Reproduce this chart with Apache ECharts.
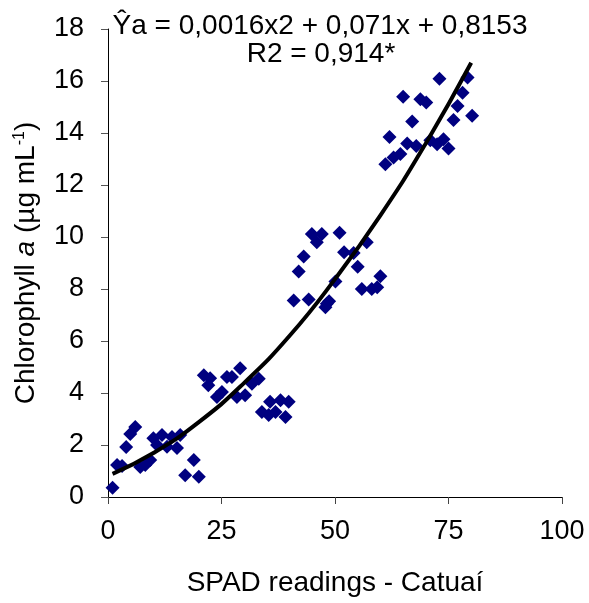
<!DOCTYPE html>
<html>
<head>
<meta charset="utf-8">
<script src="https://cdn.jsdelivr.net/npm/echarts@6/dist/echarts.min.js"></script>
<style>
  html, body { margin: 0; padding: 0; background: #fff; }
  #chart { width: 589px; height: 603px; }
</style>
</head>
<body>
<div id="chart"></div>
<script>
// SPAD readings (x) and chlorophyll a (y)
const spad = [
  1.0, 2.0, 3.1, 4.0, 4.9, 6.0, 7.1, 8.2, 9.3, 10.0, 10.8, 11.9, 13.0, 14.1, 15.2, 15.9, 17.0, 18.9, 20.0,
  21.1, 22.5, 22.1, 24.0, 25.1, 26.2, 27.3, 29.1, 28.4, 30.2, 31.7, 33.2, 33.9, 35.7, 35.4, 36.9, 38.0, 39.1, 39.8,
  44.9, 47.1, 46.0, 51.0, 43.1, 42.0, 52.0, 54.1, 57.0, 55.0, 50.1, 55.9, 58.1, 59.3, 60.0, 40.9, 44.2, 48.2, 48.7, 47.9,
  73.0, 79.2, 65.0, 68.8, 70.1, 78.1, 77.0, 80.2, 76.1, 67.0, 62.0, 65.9, 67.9, 71.0, 72.5, 73.9, 75.0, 64.4, 62.9, 61.1
];
const chla = [
  0.36, 1.23, 1.19, 1.92, 2.42, 2.69, 1.15, 1.23, 1.42, 2.26, 2.0, 2.38, 1.93, 2.31, 1.88, 2.38, 0.84, 1.42, 0.78,
  4.68, 4.57, 4.3, 3.85, 4.04, 4.62, 4.62, 4.95, 3.85, 3.91, 4.36, 4.55, 3.27, 3.66, 3.15, 3.27, 3.72, 3.08, 3.66,
  10.12, 10.12, 9.8, 10.16, 9.25, 8.67, 9.41, 9.38, 9.8, 8.86, 8.29, 8.0, 8.0, 8.07, 8.49, 7.56, 7.6, 7.43, 7.53, 7.3,
  16.09, 16.13, 15.39, 15.3, 15.17, 15.55, 15.04, 14.66, 14.5, 14.44, 13.85, 13.6, 13.5, 13.72, 13.57, 13.76, 13.4, 13.19, 13.06, 12.8
];

// trend curve points
const curveX = [1, 10, 20, 30, 40, 50, 60, 70, 80];
const curveY = [0.89, 1.69, 2.88, 4.39, 6.2, 8.38, 10.83, 13.6, 16.7];

const xTicks = [0, 25, 50, 75, 100];
const yTicks = [0, 2, 4, 6, 8, 10, 12, 14, 16, 18];

const FONT = 'Liberation Sans, Arial, sans-serif';
const FS = 27;   // tick labels
const FT = 28;   // title and axis names

const points = spad.map((x, i) => [x, chla[i]]);
const curve = curveX.map((x, i) => [x, curveY[i]]);

const chart = echarts.init(document.getElementById('chart'));
const option = {
  animation: false,
  backgroundColor: '#fff',
  graphic: [
    {
      type: 'text', x: 320, y: 26,
      style: { text: 'Ŷa = 0,0016x2 + 0,071x + 0,8153', font: FT + 'px ' + FONT, fill: '#000', align: 'center', verticalAlign: 'middle' }
    },
    {
      type: 'text', x: 321, y: 54,
      style: { text: 'R2 = 0,914*', font: FT + 'px ' + FONT, fill: '#000', align: 'center', verticalAlign: 'middle' }
    }
  ],
  grid: { left: 108, right: 27, top: 29, bottom: 106, containLabel: false },
  xAxis: {
    type: 'value',
    min: xTicks[0], max: xTicks[xTicks.length - 1], interval: 25,
    name: 'SPAD readings - Catuaí',
    nameLocation: 'middle', nameGap: 72,
    nameTextStyle: { fontFamily: FONT, fontSize: FT, color: '#000' },
    axisLine: { show: true, lineStyle: { color: '#000', width: 1 } },
    axisTick: { show: true, length: 7, lineStyle: { color: '#444' } },
    axisLabel: { fontFamily: FONT, fontSize: FS, color: '#000', margin: 21 },
    splitLine: { show: false }
  },
  yAxis: {
    type: 'value',
    min: yTicks[0], max: yTicks[yTicks.length - 1], interval: 2,
    name: '{n|Chlorophyll }{i|a}{n| (µg mL}{s|-1}{n|)}',
    nameLocation: 'middle', nameGap: 68, nameRotate: 90,
    nameTextStyle: {
      fontFamily: FONT, fontSize: FT, color: '#000',
      rich: {
        n: { fontFamily: FONT, fontSize: FT, color: '#000' },
        i: { fontFamily: FONT, fontSize: FT, color: '#000', fontStyle: 'italic' },
        s: { fontFamily: FONT, fontSize: 16, color: '#000', verticalAlign: 'top', padding: [0, 0, 12, 0] }
      }
    },
    axisLine: { show: true, lineStyle: { color: '#000', width: 1 } },
    axisTick: { show: true, length: 7, lineStyle: { color: '#555' } },
    axisLabel: { fontFamily: FONT, fontSize: FS, color: '#000', margin: 24 },
    splitLine: { show: false }
  },
  series: [
    {
      type: 'scatter',
      data: points,
      symbol: 'diamond',
      symbolSize: 14,
      itemStyle: { color: '#000080', opacity: 1 },
      z: 2
    },
    {
      type: 'line',
      data: curve,
      smooth: true,
      showSymbol: false,
      lineStyle: { color: '#000', width: 4 },
      z: 3
    }
  ]
};
chart.setOption(option);
</script>
</body>
</html>
